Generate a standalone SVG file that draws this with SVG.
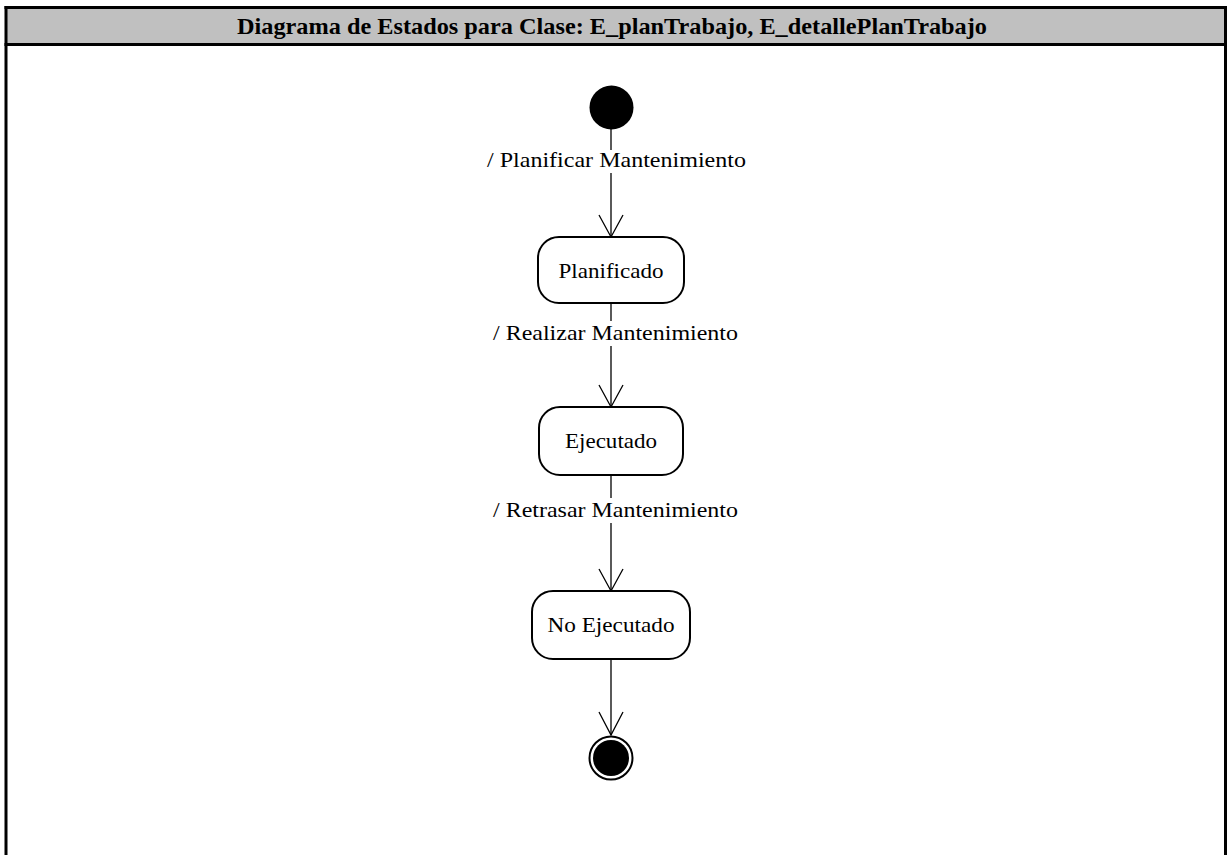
<svg xmlns="http://www.w3.org/2000/svg" width="1227" height="855" viewBox="0 0 1227 855">
  <style>
    .frame { fill: none; stroke: #000; stroke-width: 3; }
    .state { fill: #fff; stroke: #000; stroke-width: 2; }
    .edge { fill: none; stroke: #000; stroke-width: 1.3; }
    .head { fill: none; stroke: #000; stroke-width: 1.3; }
    .lbl { font-family: "Liberation Serif", "Times New Roman", serif; font-size: 22px; fill: #000; }
    .lblbg { fill: #fff; }
    .title { font-family: "Liberation Serif", "Times New Roman", serif; font-size: 24px; font-weight: bold; fill: #000; }
  </style>

  <rect x="0" y="0" width="1227" height="855" fill="#fff"/>

  <!-- frame and title bar -->
  <g id="frame">
    <rect x="6" y="7.5" width="1219.5" height="37" fill="#c0c0c0"/>
    <line class="frame" x1="6" y1="6" x2="6" y2="855"/>
    <line class="frame" x1="1225.5" y1="6" x2="1225.5" y2="855"/>
    <line class="frame" x1="4.5" y1="7.5" x2="1227" y2="7.5"/>
    <line class="frame" x1="4.5" y1="44.5" x2="1227" y2="44.5"/>
    <text class="title" x="237" y="34" textLength="750" lengthAdjust="spacingAndGlyphs">Diagrama de Estados para Clase: E_planTrabajo, E_detallePlanTrabajo</text>
  </g>

  <!-- transitions -->
  <g id="connectors">
    <line class="edge" x1="611" y1="128" x2="611" y2="237"/>
    <polyline class="head" points="599,215 611,237 623,215"/>
    <line class="edge" x1="611" y1="303" x2="611" y2="407"/>
    <polyline class="head" points="599,385 611,407 623,385"/>
    <line class="edge" x1="611" y1="475" x2="611" y2="591"/>
    <polyline class="head" points="599,569 611,591 623,569"/>
    <line class="edge" x1="611" y1="659" x2="611" y2="735"/>
    <polyline class="head" points="599,712 611,735 623,712"/>

    <g id="label-planificar">
      <rect class="lblbg" x="485" y="150" width="263" height="23"/>
      <text class="lbl" x="487" y="167" textLength="259" lengthAdjust="spacingAndGlyphs">/ Planificar Mantenimiento</text>
    </g>
    <g id="label-realizar">
      <rect class="lblbg" x="491" y="321" width="249" height="25"/>
      <text class="lbl" x="493" y="340" textLength="245" lengthAdjust="spacingAndGlyphs">/ Realizar Mantenimiento</text>
    </g>
    <g id="label-retrasar">
      <rect class="lblbg" x="491" y="498" width="249" height="25"/>
      <text class="lbl" x="493" y="517" textLength="245" lengthAdjust="spacingAndGlyphs">/ Retrasar Mantenimiento</text>
    </g>
  </g>

  <!-- pseudo-states and states -->
  <g id="initial">
    <circle cx="611.5" cy="107.5" r="22" fill="#000"/>
  </g>

  <g id="planificado">
    <rect class="state" x="538" y="237" width="146" height="66" rx="21" ry="21"/>
    <text class="lbl" x="611" y="278" text-anchor="middle" textLength="105" lengthAdjust="spacingAndGlyphs">Planificado</text>
  </g>

  <g id="ejecutado">
    <rect class="state" x="539" y="407" width="144" height="68" rx="21" ry="21"/>
    <text class="lbl" x="611" y="448" text-anchor="middle" textLength="92" lengthAdjust="spacingAndGlyphs">Ejecutado</text>
  </g>

  <g id="no-ejecutado">
    <rect class="state" x="532" y="591" width="158" height="68" rx="21" ry="21"/>
    <text class="lbl" x="611" y="632" text-anchor="middle" textLength="127" lengthAdjust="spacingAndGlyphs">No Ejecutado</text>
  </g>

  <g id="final">
    <circle cx="611" cy="758" r="21.5" fill="#fff" stroke="#000" stroke-width="2"/>
    <circle cx="611" cy="758" r="18" fill="#000"/>
  </g>
</svg>
